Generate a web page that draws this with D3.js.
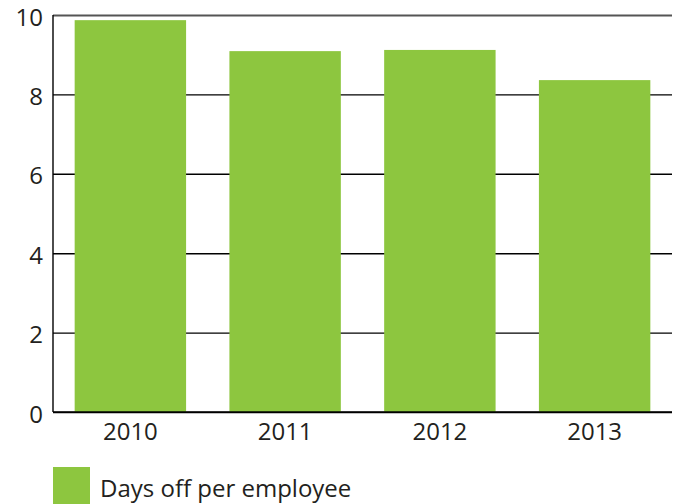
<!DOCTYPE html>
<html>
<head>
<meta charset="utf-8">
<script src="https://cdn.jsdelivr.net/npm/d3@7/dist/d3.min.js"></script>
<style>
  html, body { margin: 0; padding: 0; background: #fff; }
  svg { display: block; }
  text { font-family: "Open Sans", "Noto Sans", sans-serif; fill: #231f20; }
</style>
</head>
<body>
<svg id="chart" width="681" height="504"></svg>
<script>
// Average days off per employee, by year
const years = ["2010", "2011", "2012", "2013"];
const daysOff = [9.87, 9.09, 9.12, 8.36];
const yTicks = [0, 2, 4, 6, 8, 10];
const seriesName = "Days off per employee";
const barColor = "#8dc63f";

const svg = d3.select("#chart");
const margin = { left: 53, right: 9, top: 15, bottom: 92 };
const W = 681, H = 504;
const x0 = margin.left, x1 = W - margin.right;
const y0 = H - margin.bottom, y1 = margin.top;

const x = d3.scaleBand()
  .domain(years)
  .range([x0, x1])
  .paddingInner(0.28)
  .paddingOuter(0.14);

const y = d3.scaleLinear().domain([0, 10]).range([y0, y1]);

// Horizontal gridlines with value labels
const yAxis = d3.axisLeft(y)
  .tickValues(yTicks)
  .tickSize(-(x1 - x0))
  .tickPadding(10)
  .tickFormat(d3.format("d"));

const gy = svg.append("g")
  .attr("transform", `translate(${x0},0)`)
  .call(yAxis);
gy.select(".domain").remove();
gy.selectAll(".tick line")
  .attr("stroke", "#000")
  .attr("stroke-width", 1.4);
gy.selectAll(".tick text")
  .attr("font-size", 24)
  .attr("dy", "0.42em")
  .style("fill", "#231f20");
// Top gridline is drawn in grey
gy.selectAll(".tick").filter(d => d === 10).select("line")
  .attr("stroke", "#555")
  .attr("stroke-width", 2);

// Bars
svg.append("g")
  .selectAll("rect")
  .data(years.map((yr, i) => ({ yr, v: daysOff[i] })))
  .join("rect")
  .attr("x", d => x(d.yr))
  .attr("y", d => y(d.v))
  .attr("width", x.bandwidth())
  .attr("height", d => y(0) - y(d.v))
  .attr("fill", barColor);

// Left axis line
svg.append("line")
  .attr("x1", x0).attr("x2", x0)
  .attr("y1", y1).attr("y2", y0)
  .attr("stroke", "#000").attr("stroke-width", 1.4);

// Baseline and year labels
const xAxis = d3.axisBottom(x).tickSize(0).tickPadding(11);
const gx = svg.append("g")
  .attr("transform", `translate(0,${y0})`)
  .call(xAxis);
gx.select(".domain")
  .attr("d", `M${x0},0H${x1}`)
  .attr("stroke", "#000")
  .attr("stroke-width", 1.4);
gx.selectAll(".tick text")
  .attr("font-size", 24)
  .style("fill", "#231f20");

// Legend
const legend = svg.append("g");
legend.append("rect")
  .attr("x", x0)
  .attr("y", 467)
  .attr("width", 37)
  .attr("height", 37)
  .attr("fill", barColor);
legend.append("text")
  .attr("x", 100)
  .attr("y", 497)
  .attr("font-size", 24)
  .text(seriesName);
</script>
</body>
</html>
